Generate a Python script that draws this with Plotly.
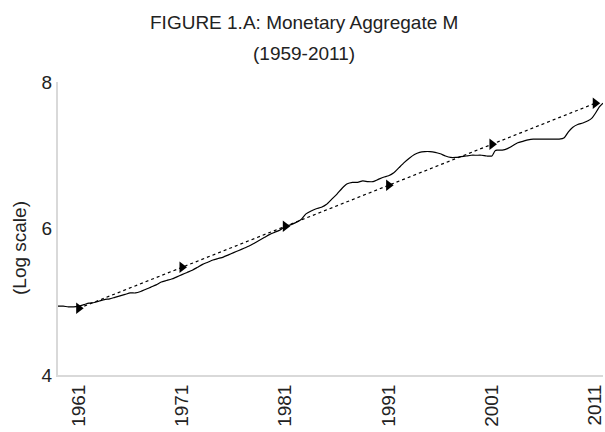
import plotly.graph_objects as go

# Monetary aggregate (log scale)
years = [1959.0, 1959.5, 1960.0, 1960.5, 1961.0, 1961.5, 1962.0, 1962.5, 1963.0, 1963.5,
         1964.0, 1964.5, 1965.0, 1965.5, 1966.0, 1966.5, 1967.0, 1967.5, 1968.0, 1968.5,
         1969.0, 1969.5, 1970.0, 1970.5, 1971.0, 1971.5, 1972.0, 1972.5, 1973.0, 1973.5,
         1974.0, 1974.5, 1975.0, 1975.5, 1976.0, 1976.5, 1977.0, 1977.5, 1978.0, 1978.5,
         1979.0, 1979.5, 1980.0, 1980.5, 1981.0, 1981.5, 1982.0, 1982.5, 1983.0, 1983.5,
         1984.0, 1984.5, 1985.0, 1985.5, 1986.0, 1986.5, 1987.0, 1987.5, 1988.0, 1988.5,
         1989.0, 1989.5, 1990.0, 1990.5, 1991.0, 1991.5, 1992.0, 1992.5, 1993.0, 1993.5,
         1994.0, 1994.5, 1995.0, 1995.5, 1996.0, 1996.5, 1997.0, 1997.5, 1998.0, 1998.5,
         1999.0, 1999.5, 2000.0, 2000.5, 2001.0, 2001.3, 2001.5, 2002.0, 2002.5, 2003.0,
         2003.5, 2004.0, 2004.5, 2005.0, 2005.5, 2006.0, 2006.5, 2007.0, 2007.5, 2008.0,
         2008.4, 2008.8, 2009.3, 2009.8, 2010.3, 2010.7, 2011.0, 2011.4, 2011.75]
log_m = [4.94, 4.94, 4.93, 4.93, 4.94, 4.96, 4.98, 4.99, 5.01, 5.03,
         5.04, 5.06, 5.08, 5.10, 5.12, 5.12, 5.14, 5.17, 5.20, 5.23,
         5.27, 5.29, 5.31, 5.34, 5.37, 5.40, 5.43, 5.47, 5.51, 5.54,
         5.57, 5.59, 5.61, 5.64, 5.67, 5.70, 5.73, 5.76, 5.80, 5.84,
         5.88, 5.92, 5.95, 5.98, 6.03, 6.05, 6.08, 6.12, 6.20, 6.24,
         6.27, 6.29, 6.33, 6.40, 6.47, 6.55, 6.61, 6.63, 6.63, 6.65,
         6.64, 6.64, 6.67, 6.70, 6.72, 6.76, 6.83, 6.90, 6.96, 7.01,
         7.04, 7.05, 7.05, 7.04, 7.02, 6.99, 6.97, 6.97, 6.98, 6.99,
         7.00, 7.00, 7.00, 6.99, 6.99, 7.06, 7.07, 7.07, 7.09, 7.13,
         7.17, 7.19, 7.21, 7.22, 7.22, 7.22, 7.22, 7.22, 7.22, 7.24,
         7.32, 7.38, 7.42, 7.44, 7.47, 7.51, 7.57, 7.66, 7.71]

# Trend line markers
trend_years = [1961, 1971, 1981, 1991, 2001, 2011]
trend_vals = [4.91, 5.47, 6.03, 6.59, 7.15, 7.71]

tick_years = [1961, 1971, 1981, 1991, 2001, 2011]
tick_labels = ["1961", "1971", "1981", "1991", "2001", "2011"]
y_ticks = [4, 6, 8]

FONT = "Liberation Sans, Arial, sans-serif"
W, H = 605, 432
ML, MR, MT, MB = 58, 2, 82, 57

fig = go.Figure()
fig.add_trace(go.Scatter(x=years, y=log_m, mode="lines",
                         line=dict(color="black", width=1.2, shape="spline", smoothing=0.6),
                         showlegend=False, hoverinfo="skip"))
fig.add_trace(go.Scatter(x=trend_years, y=trend_vals, mode="lines+markers",
                         line=dict(color="black", width=1.2, dash="dot"),
                         marker=dict(symbol="triangle-right", size=10, color="black"),
                         showlegend=False, hoverinfo="skip", cliponaxis=False))

fig.update_layout(
    width=W, height=H,
    margin=dict(l=ML, r=MR, t=MT, b=MB, autoexpand=False),
    paper_bgcolor="white", plot_bgcolor="white",
    font=dict(family=FONT, color="#222222", size=18),
    xaxis=dict(range=[1959, 2011.75], tickmode="array", tickvals=tick_years,
               ticktext=tick_labels, tickangle=-90, showgrid=False, zeroline=False,
               showline=True, linecolor="#d9d9d9", linewidth=2, ticks="",
               ticklabeloverflow="allow",
               tickfont=dict(size=19, family=FONT, color="#222222")),
    yaxis=dict(range=[4, 8], tickmode="array", tickvals=y_ticks, showgrid=False,
               zeroline=False, showline=True, linecolor="#d9d9d9", linewidth=2,
               ticks="", tickfont=dict(size=19, family=FONT, color="#222222")),
)

pw, ph = W - ML - MR, H - MT - MB

def px_to_paper(xp, yp):
    return (xp - ML) / pw, (H - MB - yp) / ph

ax, ay = px_to_paper(304, 22)
bx, by = px_to_paper(304, 53)
cx, cy = px_to_paper(19, 248)
fig.add_annotation(text="FIGURE 1.A: Monetary Aggregate M", x=ax, y=ay, xref="paper", yref="paper",
                   showarrow=False, xanchor="center", yanchor="middle",
                   font=dict(size=19, family=FONT, color="#222222"))
fig.add_annotation(text="(1959-2011)", x=bx, y=by, xref="paper", yref="paper",
                   showarrow=False, xanchor="center", yanchor="middle",
                   font=dict(size=19, family=FONT, color="#222222"))
fig.add_annotation(text="(Log scale)", x=cx, y=cy, xref="paper", yref="paper",
                   showarrow=False, xanchor="center", yanchor="middle", textangle=-90,
                   font=dict(size=19, family=FONT, color="#222222"))

fig.write_html("out.html", config={"displayModeBar": False, "staticPlot": True},
               post_script="document.body.style.margin='0';document.body.style.overflow='hidden';")
